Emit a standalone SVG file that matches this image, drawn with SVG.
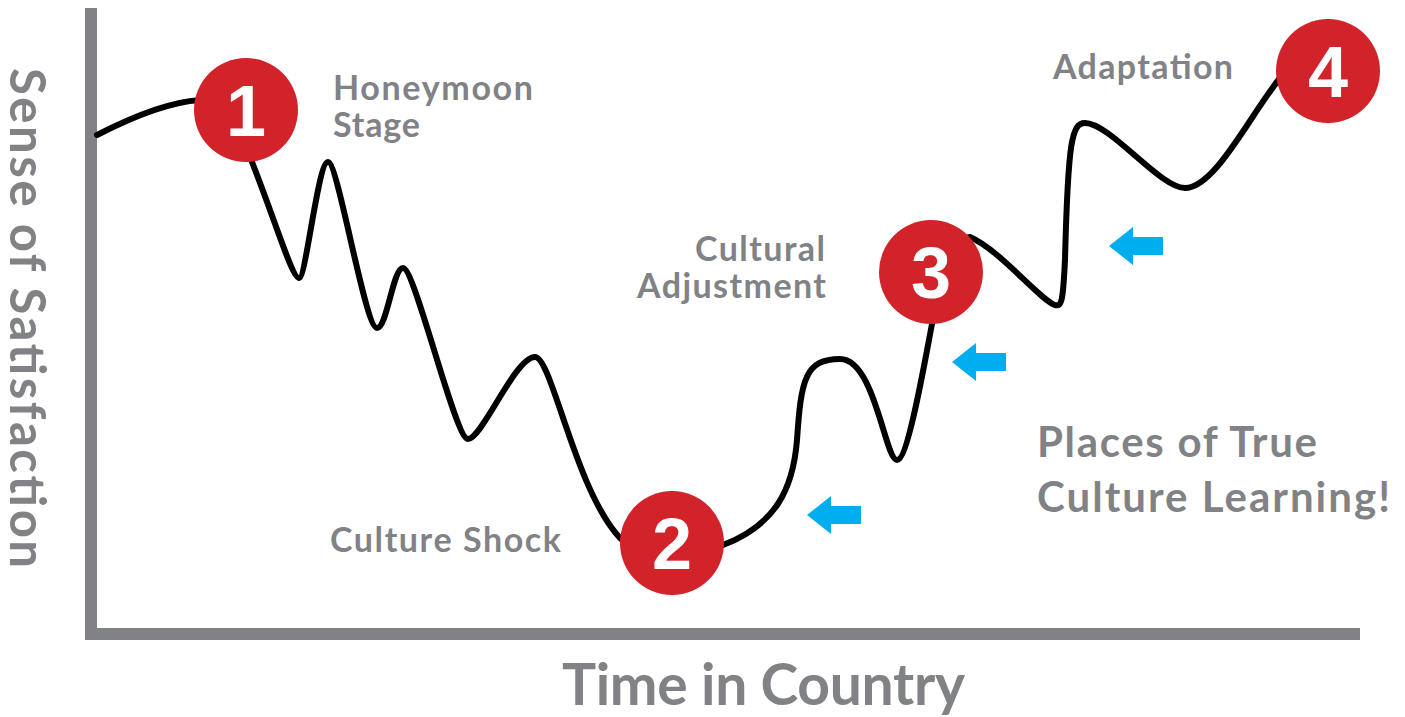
<svg xmlns="http://www.w3.org/2000/svg" width="1405" height="717" viewBox="0 0 1405 717">
<style>
.lbl{font-family:Lato,"Open Sans","Liberation Sans",sans-serif;font-weight:700;fill:#818286}
.num{font-family:"Liberation Sans",Arial,sans-serif;font-weight:700;fill:#ffffff;font-size:72px;text-anchor:middle}
.dot{fill:#d2232a}
.arr{fill:#00aeef}
</style>
<defs>
<path id="arrow" d="M0,0 L24,-19 L24,-9 L54,-9 L54,9 L24,9 L24,19 Z"/>
</defs>
<rect width="1405" height="717" fill="#ffffff"/>
<g id="axes" fill="#808285">
<rect x="85" y="8" width="12" height="632"/>
<rect x="85" y="628" width="1275" height="12"/>
</g>
<text class="lbl" transform="translate(10,68) rotate(90)" font-size="49" textLength="500">Sense of Satisfaction</text>
<text class="lbl" x="562" y="705" font-size="57" textLength="403">Time in Country</text>
<g id="connectors">
<path fill="none" stroke="#000" stroke-width="6" stroke-linecap="round" stroke-linejoin="round" d="M97,135 C130,118 170,102 200,100 C220,99 240,130 252,162 C275,220 292,278 299,278 C306,278 318,162 328,162 C338,162 365,328 377,328 C387,328 393,268 403,268 C415,268 455,439 468,439 C482,439 515,357 535,357 C552,357 575,490 620,538 C645,565 700,555 723,545 C775,525 793,490 797,440 C801,380 805,359 840,359 C875,359 885,460 897,460 C908,460 925,360 932,324 C935,290 945,240 970,237 C1000,250 1040,300 1055,305 C1062,307 1063,300 1065,260 C1068,140 1072,123 1085,123 C1110,123 1160,188 1185,188 C1215,188 1250,115 1280,78"/>
</g>
<g id="arrows" class="arr">
<use href="#arrow" x="1109" y="246"/>
<use href="#arrow" x="952" y="362"/>
<use href="#arrow" x="807" y="515"/>
</g>
<g id="node1">
<circle class="dot" cx="246" cy="110" r="52"/>
<text class="num" x="246" y="136">1</text>
<text class="lbl" x="333" y="100" font-size="34" textLength="200">Honeymoon</text>
<text class="lbl" x="333" y="137" font-size="34" textLength="87">Stage</text>
</g>
<g id="node2">
<circle class="dot" cx="672" cy="543" r="52"/>
<text class="num" x="672" y="569">2</text>
<text class="lbl" x="330" y="552" font-size="34" textLength="231">Culture Shock</text>
</g>
<g id="node3">
<circle class="dot" cx="931" cy="272" r="52"/>
<text class="num" x="931" y="298">3</text>
<text class="lbl" x="695" y="261" font-size="34" textLength="130">Cultural</text>
<text class="lbl" x="637" y="298" font-size="34" textLength="189">Adjustment</text>
</g>
<g id="node4">
<circle class="dot" cx="1328" cy="71" r="52"/>
<text class="num" x="1328" y="97">4</text>
<text class="lbl" x="1053" y="79" font-size="34" textLength="180">Adaptation</text>
</g>
<g id="note">
<text class="lbl" x="1037" y="457" font-size="42" textLength="280">Places of True</text>
<text class="lbl" x="1037" y="512" font-size="42" textLength="353">Culture Learning!</text>
</g>
</svg>
